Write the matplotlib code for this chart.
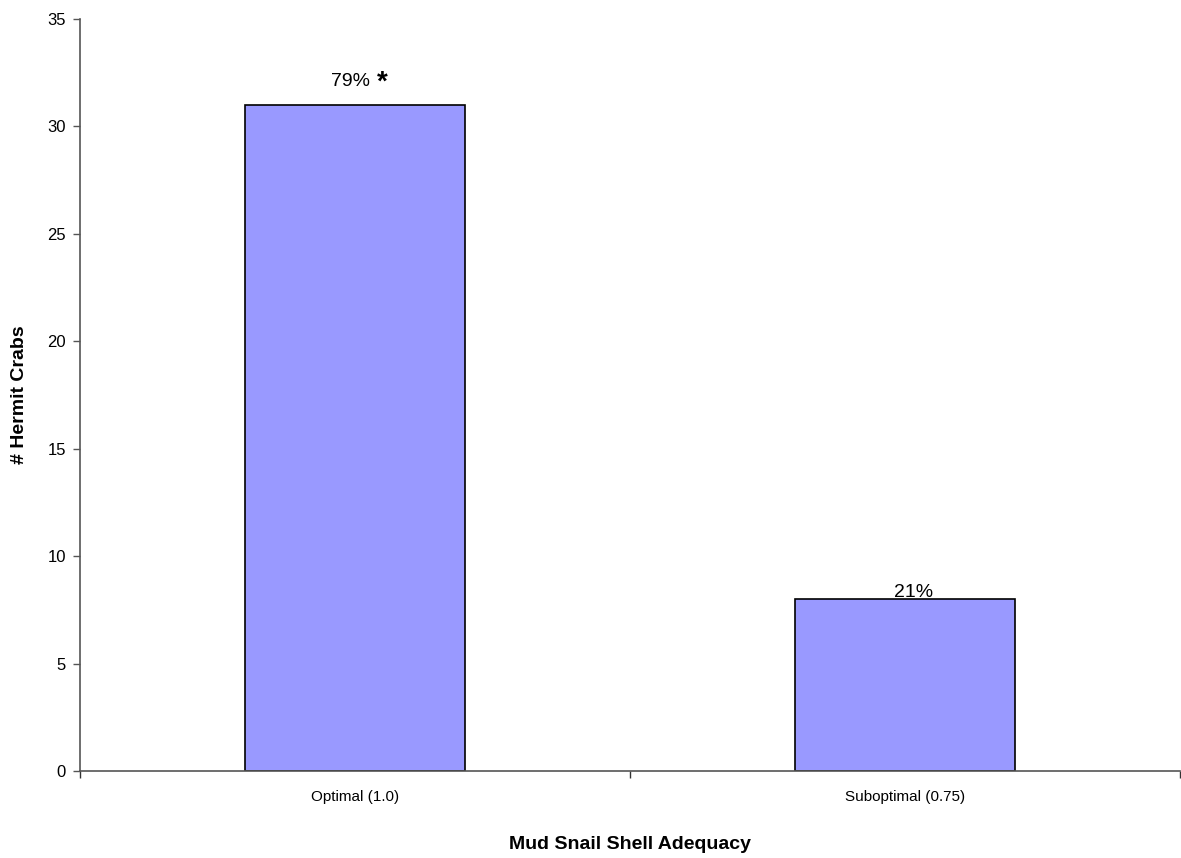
import matplotlib
matplotlib.use("Agg")
import matplotlib.pyplot as plt
from matplotlib.ticker import FixedLocator

categories = ["Optimal (1.0)", "Suboptimal (0.75)"]
crab_counts = [31, 8]
percent_labels = ["79%", "21%"]
significance = ["*", ""]
y_ticks = [0, 5, 10, 15, 20, 25, 30, 35]

plt.rcParams['font.family'] = ['Liberation Sans', 'DejaVu Sans']

fig = plt.figure(figsize=(11.81, 8.58), dpi=100)
ax = fig.add_axes([80 / 1181, 1 - 771 / 858, 1100 / 1181, (771 - 19) / 858])

x = list(range(len(categories)))
ax.bar(x, crab_counts, width=0.4, color="#9999FF", edgecolor="black", linewidth=1.2, zorder=2)

ax.set_xlim(-0.5, len(categories) - 0.5)
ax.set_ylim(0, 35)
ax.set_yticks(y_ticks)
ax.tick_params(axis='y', direction='out', length=5, labelsize=12, width=1, color="#555555", pad=5)

ax.set_xticks(x)
ax.set_xticklabels(categories, fontsize=11)
ax.tick_params(axis='x', which='major', length=0, pad=14)
ax.xaxis.set_minor_locator(FixedLocator([i + 0.5 for i in range(-1, len(categories))]))
ax.tick_params(axis='x', which='minor', direction='out', length=5, width=1, color="#333333")

for side in ("top", "right"):
    ax.spines[side].set_visible(False)
for side in ("left", "bottom"):
    ax.spines[side].set_color("#555555")
    ax.spines[side].set_linewidth(1.2)

# per-label offsets (points) for the percentage annotations
label_offsets = [(-3, 11), (6, -1)]
for xi, val, pct, sig, off in zip(x, crab_counts, percent_labels, significance, label_offsets):
    ax.annotate(pct, (xi, val), xytext=off, textcoords="offset points",
                ha="center", va="bottom", fontsize=14)
    if sig:
        ax.annotate(sig, (xi, val), xytext=(off[0] + 23, off[1] - 4), textcoords="offset points",
                    ha="center", va="bottom", fontsize=20, fontweight="bold")

ax.set_ylabel("# Hermit Crabs", fontsize=14, fontweight="bold")
ax.yaxis.set_label_coords(-52 / 1100, 0.5)
ax.set_xlabel("Mud Snail Shell Adequacy", fontsize=14, fontweight="bold", labelpad=23)

fig.savefig("out.png", dpi=100)
